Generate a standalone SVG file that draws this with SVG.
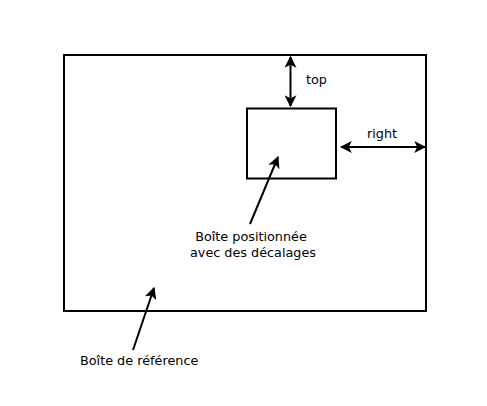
<svg xmlns="http://www.w3.org/2000/svg" width="487" height="406" viewBox="0 0 487 406">
<style>
.box{fill:none;stroke:#000;stroke-width:2}
.ln{stroke:#000;stroke-width:2;fill:none}
text{font-family:"DejaVu Sans",sans-serif;font-size:12.8px;fill:#000}
</style>
<defs>
<marker id="ah" viewBox="0 0 10 10" refX="9" refY="5" markerWidth="6" markerHeight="6" orient="auto-start-reverse" markerUnits="strokeWidth">
<path d="M0,0 L10,5 L0,10 L2.5,5 Z" fill="#000"/>
</marker>
</defs>
<rect width="487" height="406" fill="#fff"/>
<g id="ref-box"><rect class="box" x="64" y="55" width="362" height="256"/></g>
<g id="pos-box"><rect class="box" x="247" y="108.5" width="89" height="70"/></g>
<g id="connectors">
<line class="ln" x1="290.5" y1="57" x2="290.5" y2="106" marker-start="url(#ah)" marker-end="url(#ah)"/>
<line class="ln" x1="341" y1="147" x2="425" y2="147" marker-start="url(#ah)" marker-end="url(#ah)"/>
<line class="ln" x1="250" y1="224" x2="278" y2="157" marker-end="url(#ah)"/>
<line class="ln" x1="133" y1="350" x2="154" y2="288" marker-end="url(#ah)"/>
</g>
<g id="labels">
<text x="306" y="84">top</text>
<text x="367" y="138">right</text>
<text x="251" y="241" text-anchor="middle">Boîte positionnée</text>
<text x="253" y="257" text-anchor="middle">avec des décalages</text>
<text x="80" y="365">Boîte de référence</text>
</g>
</svg>
